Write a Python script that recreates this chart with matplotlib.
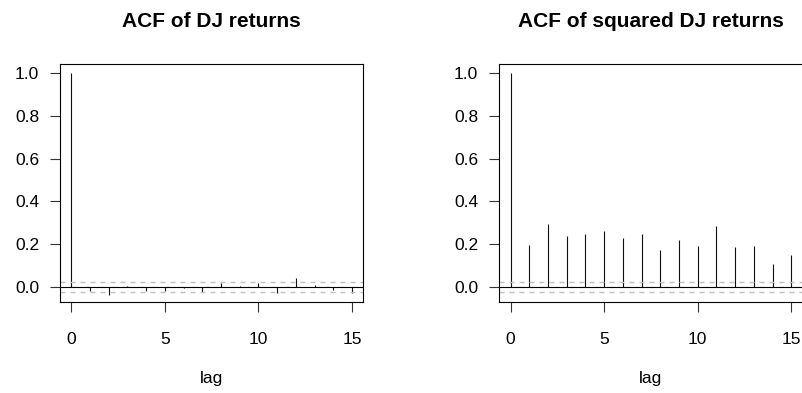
import numpy as np
import matplotlib
matplotlib.use("Agg")
import matplotlib.pyplot as plt

plt.rcParams["font.family"] = ["Liberation Sans", "DejaVu Sans"]

# sample autocorrelations
lags = np.arange(0, 16)
acf_returns = [1.0, -0.022, -0.040, 0.005, -0.019, -0.018, -0.004, -0.026,
               0.019, 0.003, 0.016, -0.028, 0.039, 0.009, -0.016, -0.031]
acf_squared = [1.0, 0.195, 0.292, 0.239, 0.245, 0.259, 0.230, 0.247,
               0.170, 0.219, 0.189, 0.283, 0.186, 0.191, 0.105, 0.150]
ci_bound = 0.0234
titles = ["ACF of DJ returns", "ACF of squared DJ returns"]
yticks = [0.0, 0.2, 0.4, 0.6, 0.8, 1.0]
xticks = [0, 5, 10, 15]

fig = plt.figure(figsize=(8.02, 3.93), dpi=100)
ax1 = fig.add_axes([60 / 802, 91.3 / 393, 303.3 / 802, 237.7 / 393])
ax2 = fig.add_axes([499.3 / 802, 91.3 / 393, 303.3 / 802, 237.7 / 393])

for ax, acf, title in zip([ax1, ax2], [acf_returns, acf_squared], titles):
    ax.vlines(lags, 0, acf, color="#111111", lw=0.8)
    ax.axhline(0, color="black", lw=0.8)
    ax.axhline(ci_bound, color="#BEBEBE", lw=1.0, dashes=(3.6, 3.6))
    ax.axhline(-ci_bound, color="#BEBEBE", lw=1.0, dashes=(3.6, 3.6))
    ax.set_xlim(-0.6, 15.6)
    ax.set_ylim(-0.0703, 1.044)
    ax.set_xticks(xticks)
    ax.set_yticks(yticks)
    ax.set_yticklabels(["%.1f" % v for v in yticks])
    ax.tick_params(direction="out", length=7.2, width=0.8, labelsize=12.5,
                   color="#333333")
    ax.tick_params(axis="x", pad=14.4)
    ax.tick_params(axis="y", pad=7.9)
    for s in ax.spines.values():
        s.set_linewidth(0.8)
    ax.set_title(title, fontsize=15, fontweight="bold", pad=26.6)
    ax.set_xlabel("lag", fontsize=12.5, labelpad=17.5)

fig.savefig("out.png", dpi=100)
